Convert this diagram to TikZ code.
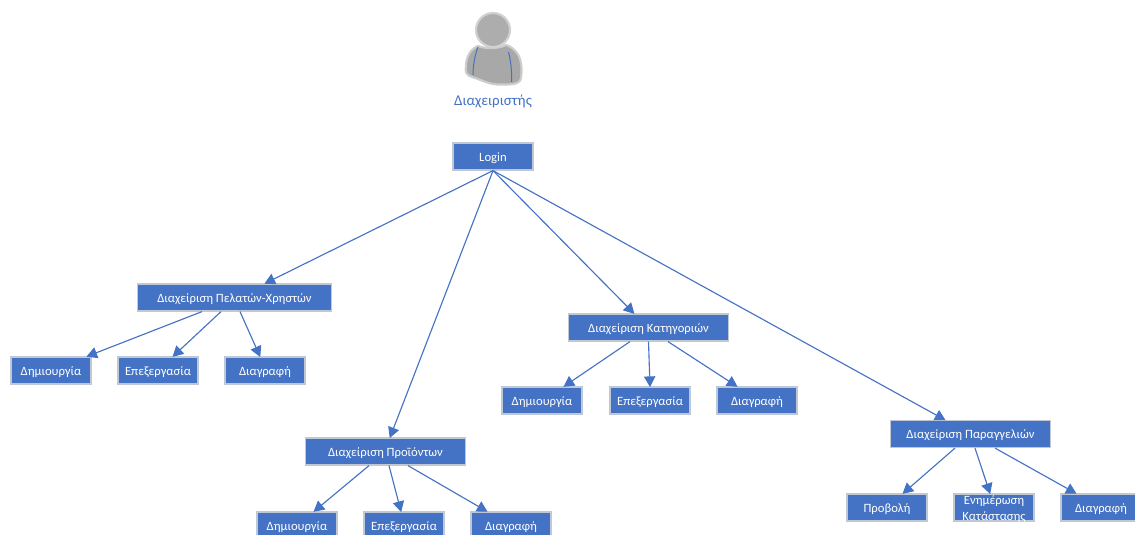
\documentclass[tikz,border=0pt]{standalone}
\usepackage{fontspec}
\setmainfont{Carlito}
\usetikzlibrary{arrows.meta,calc}
\definecolor{bl}{HTML}{4472C4}
\definecolor{bd}{HTML}{C0C8D6}
\tikzset{
 box/.style={draw=bd,line width=0.9pt,fill=bl,text=white,minimum height=20.25pt,inner sep=0pt,font=\fontsize{9.5}{11.3}\selectfont,align=center,text height=9pt,text depth=2.2pt},
 leaf/.style={box,minimum width=60pt},
 mid/.style={box,minimum width=119.5pt},
 conn/.style={draw=bl,line width=0.85pt,-{Triangle[length=8pt,width=8.5pt]},shorten >=-0.5pt}
}
\begin{document}
\begin{tikzpicture}[x=0.75pt,y=-0.75pt]
\useasboundingbox (0,0) rectangle (1135,535);
\clip (0,0) rectangle (1135,535);
% person
\path[fill=black!34,draw=black!20,line width=1.6pt,line join=round]
 (478,46) .. controls (470,49) and (466,58) .. (466,66)
 .. controls (465,72) and (466,75) .. (472,77)
 .. controls (482,80) and (490,85) .. (500,84.5)
 .. controls (510,84.5) and (520,85) .. (521,78)
 .. controls (522,70) and (522,60) .. (517,53)
 .. controls (514,49) and (510,46) .. (506,45)
 .. controls (498,49) and (486,49) .. (478,46) -- cycle;
\node[circle,minimum size=25.5pt,inner sep=0pt,fill=black!32,draw=black!18,line width=1.6pt] (head) at (493,30) {};
\draw[bl,line width=0.75pt] (478,47) .. controls (475,55) and (473,65) .. (473,75);
\draw[bl,line width=0.75pt] (508.5,52) .. controls (511,62) and (512,72) .. (511.5,82);
\node[text=bl,inner sep=0pt,font=\fontsize{11.2}{13}\selectfont] (title) at (493,101) {Διαχειριστής};
% boxes
\node[box,minimum width=60pt] (L) at (493,156.5) {Login};
\node[box,minimum width=146pt] (P) at (234.5,297.5) {Διαχείριση Πελατών-Χρηστών};
\node[leaf] (P1) at (51,370.5) {Δημιουργία};
\node[leaf] (P2) at (158,370.5) {Επεξεργασία};
\node[leaf] (P3) at (265,370.5) {Διαγραφή};
\node[mid] (K) at (648.5,327.5) {Διαχείριση Κατηγοριών};
\node[leaf] (K1) at (542,400.5) {Δημιουργία};
\node[leaf] (K2) at (650,400.5) {Επεξεργασία};
\node[leaf] (K3) at (757,400.5) {Διαγραφή};
\node[mid] (R) at (385.5,451.5) {Διαχείριση Προϊόντων};
\node[leaf] (R1) at (297,525.5) {Δημιουργία};
\node[leaf] (R2) at (404,525.5) {Επεξεργασία};
\node[leaf] (R3) at (511,525.5) {Διαγραφή};
\node[mid] (O) at (970.5,434) {Διαχείριση Παραγγελιών};
\node[leaf] (O1) at (887,507.5) {Προβολή};
\node[leaf,text height=19.5pt,text depth=0.7pt] (O2) at (994,507.5) {Ενημέρωση\\Κατάστασης};
\node[leaf] (O3) at (1101,507.5) {Διαγραφή};
% connectors
\draw[conn] (L.south) -- ($(P.north)+(30.5,0)$);
\draw[conn] (L.south) -- ($(R.north)+(4.5,0)$);
\draw[conn] (L.south) -- ($(K.north)+(-14.5,0)$);
\draw[conn] (L.south) -- ($(O.north)+(-25.5,0)$);
\draw[conn] ($(P.south)+(-32.5,0)$) -- ($(P1.north)+(36,0)$);
\draw[conn] ($(P.south)+(-13.5,0)$) -- ($(P2.north)+(15,0)$);
\draw[conn] ($(P.south)+(5.5,0)$) -- ($(P3.north)+(-5,0)$);
\draw[conn] ($(K.south)+(-18.5,0)$) -- ($(K1.north)+(22,0)$);
\draw[conn] (K.south) -- (K2.north);
\draw[conn] ($(K.south)+(19.5,0)$) -- ($(K3.north)+(-20,0)$);
\draw[conn] ($(R.south)+(-16.5,0)$) -- ($(R1.north)+(17,0)$);
\draw[conn] ($(R.south)+(3.5,0)$) -- ($(R2.north)+(-3,0)$);
\draw[conn] ($(R.south)+(22.5,0)$) -- ($(R3.north)+(-24,0)$);
\draw[conn] ($(O.south)+(-15.5,0)$) -- ($(O1.north)+(16,0)$);
\draw[conn] ($(O.south)+(4.5,0)$) -- ($(O2.north)+(-4,0)$);
\draw[conn] ($(O.south)+(24.5,0)$) -- ($(O3.north)+(-25,0)$);
\end{tikzpicture}
\end{document}
